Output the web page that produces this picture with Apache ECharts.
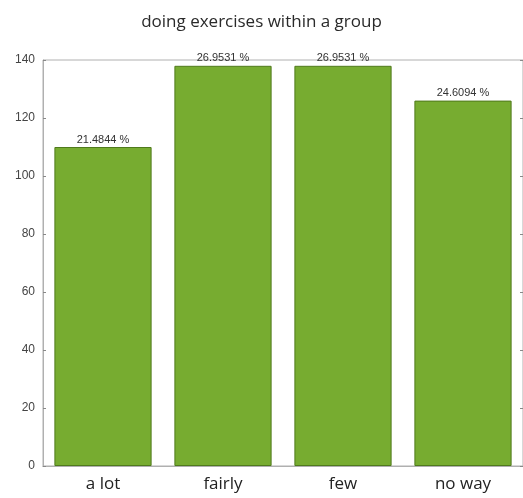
<!DOCTYPE html>
<html>
<head>
<meta charset="utf-8">
<script src="https://cdn.jsdelivr.net/npm/echarts@6/dist/echarts.min.js"></script>
<style>html,body{margin:0;padding:0;background:#fff}#c{width:523px;height:498px}</style>
</head>
<body>
<div id="c"></div>
<script>
const categories = ['a lot', 'fairly', 'few', 'no way'];
const counts = [110, 138, 138, 126];
const percentLabels = ['21.4844 %', '26.9531 %', '26.9531 %', '24.6094 %'];
const yTicks = [0, 20, 40, 60, 80, 100, 120, 140];

const chart = echarts.init(document.getElementById('c'));
chart.setOption({
  animation: false,
  title: {
    text: 'doing exercises within a group',
    left: 'center', top: 9,
    textStyle: { fontFamily: 'Open Sans', fontSize: 17, fontWeight: 'normal', color: '#2a2a2a' }
  },
  grid: { left: 43, right: 0, top: 60, bottom: 32, show: true, borderColor: '#b0b0b0', borderWidth: 1 },
  xAxis: [{
    type: 'category', data: categories, position: 'bottom',
    axisLine: { lineStyle: { color: '#b0b0b0' } },
    axisTick: { inside: true, alignWithLabel: true, length: 3, lineStyle: { color: '#888' } },
    axisLabel: { fontFamily: 'Open Sans', fontSize: 17, color: '#222', margin: 10 }
  }, {
    type: 'category', data: categories, position: 'top',
    axisLine: { lineStyle: { color: '#b0b0b0' } },
    axisTick: { inside: true, alignWithLabel: true, length: 3, lineStyle: { color: '#888' } },
    axisLabel: { show: false }
  }],
  yAxis: [{
    type: 'value', min: yTicks[0], max: yTicks[yTicks.length - 1], interval: 20,
    axisLine: { show: true, lineStyle: { color: '#b0b0b0' } },
    axisTick: { show: true, inside: true, length: 3, lineStyle: { color: '#888' } },
    splitLine: { show: false },
    axisLabel: { fontFamily: 'Liberation Sans', fontSize: 12, color: '#444', margin: 8 }
  }, {
    type: 'value', min: yTicks[0], max: yTicks[yTicks.length - 1], interval: 20, position: 'right',
    axisLine: { show: true, lineStyle: { color: '#b0b0b0' } },
    axisTick: { show: true, inside: true, length: 3, lineStyle: { color: '#888' } },
    splitLine: { show: false },
    axisLabel: { show: false }
  }],
  series: [{
    type: 'bar', data: counts, barWidth: '81%',
    itemStyle: { color: '#77ac30', borderColor: '#4f7a1c', borderWidth: 1 },
    label: {
      show: true, position: 'top', distance: 2,
      fontFamily: 'Liberation Sans', fontSize: 11, color: '#333',
      formatter: p => percentLabels[p.dataIndex]
    }
  }]
});
</script>
</body>
</html>
